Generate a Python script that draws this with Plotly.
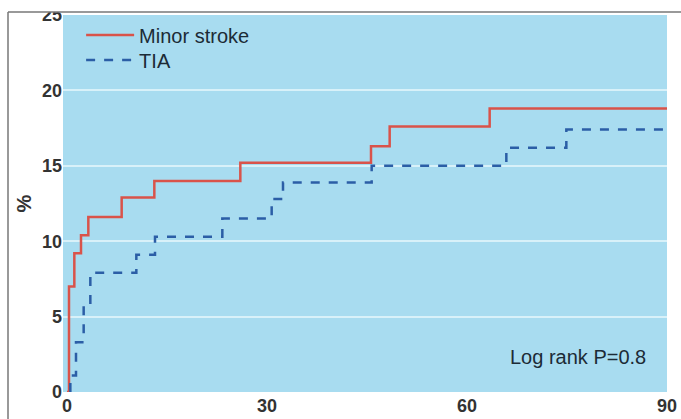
import plotly.graph_objects as go

# Days since event
minor_days = [0, 0.3, 1.1, 2.1, 3.2, 8.2, 13.1, 26.0, 45.6, 48.4, 63.4, 90]
minor_pct = [0, 7.0, 9.2, 10.4, 11.6, 12.9, 14.0, 15.2, 16.3, 17.6, 18.8, 18.8]

tia_days = [0.5, 0.5, 1.35, 2.5, 3.5, 10.4, 13.2, 23.3, 30.7, 32.4, 45.7, 65.9, 74.9, 90]
tia_pct = [0, 1.1, 3.3, 5.8, 7.9, 9.1, 10.3, 11.5, 12.8, 13.9, 15.0, 16.2, 17.4, 17.4]

x_ticks = [0, 30, 60, 90]
y_ticks = [0, 5, 10, 15, 20, 25]

FONT = "Liberation Sans, Arial, sans-serif"
TXT = "#333333"
DARK = "#1c2b36"

fig = go.Figure()
fig.add_trace(go.Scatter(x=minor_days, y=minor_pct, mode="lines", line_shape="hv",
                         name="Minor stroke", legend="legend",
                         line=dict(color="#d9534a", width=2.5)))
fig.add_trace(go.Scatter(x=tia_days, y=tia_pct, mode="lines", line_shape="hv",
                         name="TIA", legend="legend2",
                         line=dict(color="#2b5ea6", width=2.5, dash="dash")))

leg_common = dict(xanchor="left", yanchor="middle", itemwidth=48,
                  bgcolor="rgba(0,0,0,0)", font=dict(size=20, color=DARK))

fig.update_layout(
    width=681, height=419,
    margin=dict(l=63, r=14, t=15, b=27),
    paper_bgcolor="white",
    plot_bgcolor="#a8dcf0",
    font=dict(family=FONT, size=18, color=TXT),
    showlegend=True,
    legend=dict(x=0.03, y=1 - 20 / 377, **leg_common),
    legend2=dict(x=0.03, y=1 - 45 / 377, **leg_common),
    xaxis=dict(range=[-0.6, 90], tickvals=x_ticks, showgrid=False, zeroline=False,
               showline=False, ticks="", automargin=False, ticklabelstandoff=1,
               ticklabeloverflow="allow",
               tickfont=dict(size=18, color=TXT, weight="bold")),
    yaxis=dict(range=[0, 25], tickvals=y_ticks, showgrid=True, gridcolor="#d8f1f9",
               gridwidth=2, zeroline=False, showline=False, ticks="", automargin=False,
               ticklabeloverflow="allow",
               tickfont=dict(size=18, color=TXT, weight="bold"),
               title=dict(text="%", font=dict(size=20, color=TXT, weight="bold"), standoff=4)),
    annotations=[dict(text="Log rank P=0.8", x=87.2, y=2.35, xref="x", yref="y",
                      xanchor="right", yanchor="middle", showarrow=False,
                      font=dict(size=20, color=DARK))],
    shapes=[
        dict(type="rect", xref="paper", yref="paper", x0=-0.2, x1=1.05,
             y0=1 + 3 / 377, y1=1.2,
             fillcolor="white", line=dict(width=0), layer="above"),
        dict(type="line", xref="paper", yref="paper", x0=-55 / 604, x1=1.05,
             y0=1 + 3 / 377, y1=1 + 3 / 377, line=dict(color="#777777", width=1.5),
             layer="above"),
        dict(type="line", xref="paper", yref="paper", x0=-55 / 604, x1=-55 / 604,
             y0=-0.1, y1=1 + 3 / 377, line=dict(color="#777777", width=1.5),
             layer="above"),
    ],
)

fig.write_html(
    "out.html",
    config={"displayModeBar": False},
    post_script="document.body.style.margin='0';document.body.style.overflow='hidden';",
)
